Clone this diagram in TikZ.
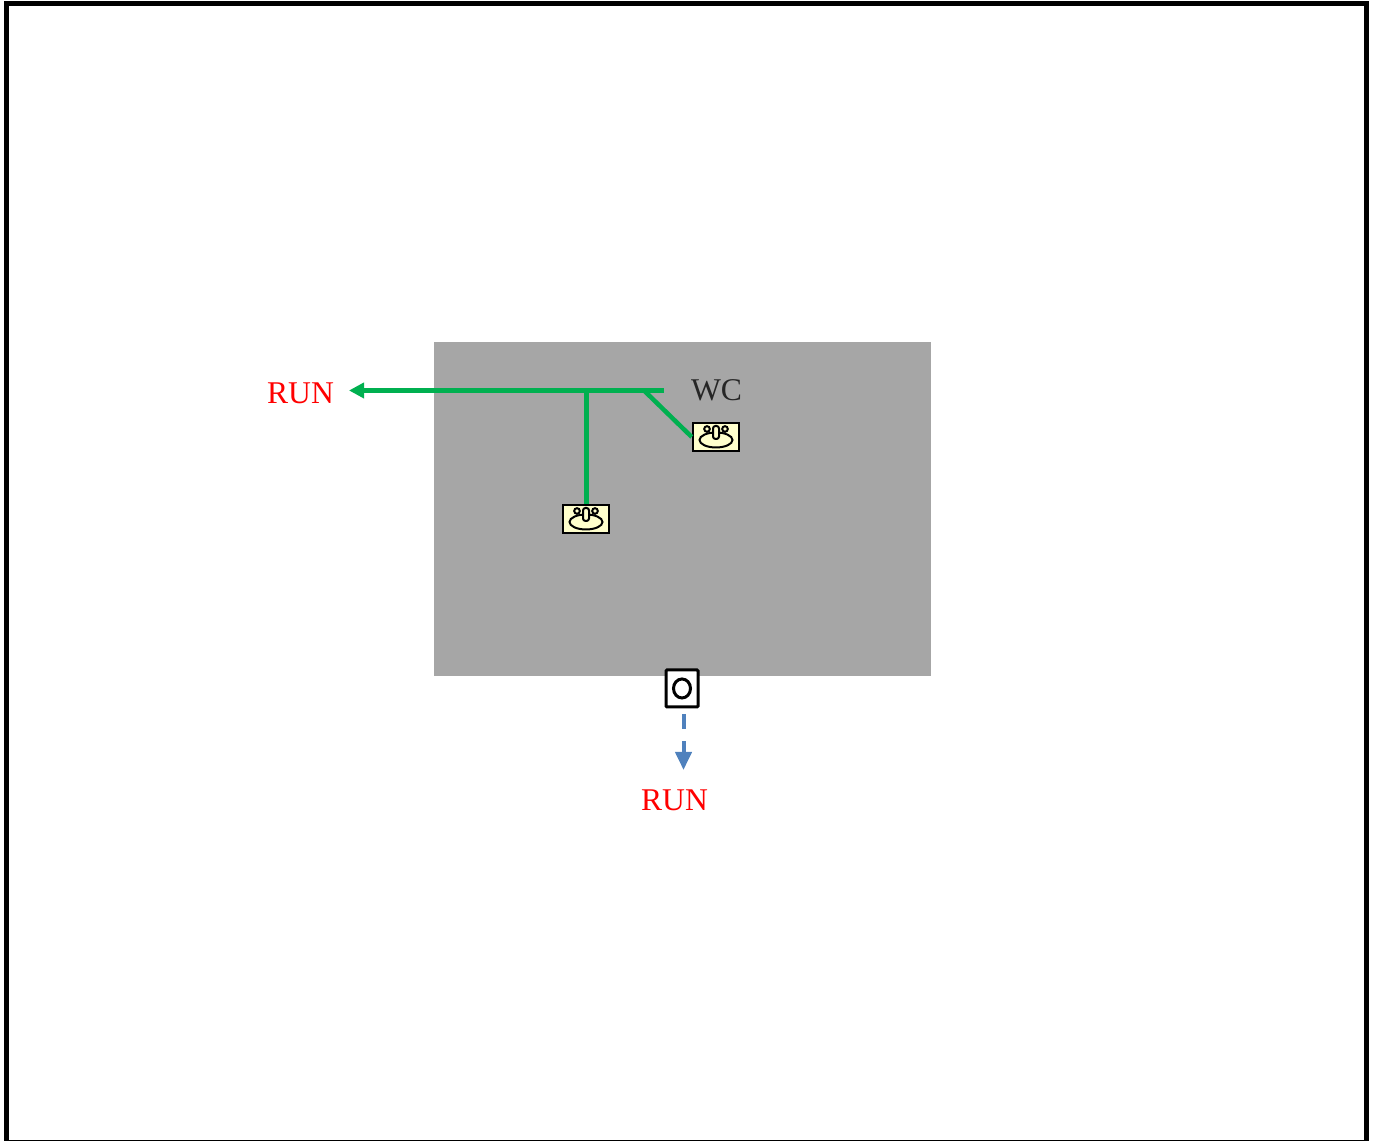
\documentclass[tikz,border=0pt]{standalone}
\usepackage{fontspec}
\setmainfont{Liberation Serif}
\usetikzlibrary{arrows.meta}
\usetikzlibrary{shapes.geometric}
\definecolor{pipegreen}{HTML}{00B050}
\definecolor{drainblue}{HTML}{4F81BD}
\definecolor{roomgray}{HTML}{A6A6A6}
\definecolor{sinkyellow}{HTML}{FFFFCC}
\tikzstyle{pipe} = [draw=pipegreen, line width=0.045cm]
\tikzstyle{drain} = [draw=drainblue, line width=0.04cm, dash pattern=on 0.15cm off 0.12cm]
\tikzstyle{sink} = [draw=black, fill=sinkyellow, line width=0.025cm, minimum width=0.46cm, minimum height=0.28cm, inner sep=0pt]
\tikzstyle{toilet} = [draw=black, fill=white, line width=0.03cm, rounded corners=0.1mm, minimum width=0.32cm, minimum height=0.37cm, inner sep=0pt]
\tikzstyle{runlabel} = [text=red, font=\fontsize{9}{11}\selectfont, inner sep=0pt]
\tikzstyle{roomlabel} = [text=black!85, font=\fontsize{9}{11}\selectfont, inner sep=0pt]

\begin{document}
\begin{tikzpicture}[scale=1.0]
	
	\useasboundingbox (0,0) rectangle (13.73,11.41);
	\draw [line width=0.05cm] (0.065,-0.016) rectangle (13.66,11.375);
	\fill [roomgray] (4.34,4.65) rectangle (9.31,7.99);

	\node (runA) [runlabel] at (3.005,7.48) {RUN};
	\node (runB) [runlabel] at (6.745,3.41) {RUN};
	\node (wc) [roomlabel] at (7.165,7.51) {WC};
	\node (sinkA) [sink] at (7.16,7.04) {};
	\node (sinkB) [sink] at (5.86,6.22) {};
	\node (wcpan) [toilet] at (6.82,4.525) {};
	\node (wcbowl) [draw=black, line width=0.03cm, ellipse, minimum width=0.17cm, minimum height=0.19cm, inner sep=0pt] at (wcpan) {};

	\coordinate (mainEnd) at (6.64,7.505);
	\coordinate (tipA) at (3.49,7.505);
	\coordinate (teeB) at (5.863,7.53);
	\coordinate (teeA) at (6.44,7.505);
	\coordinate (tipB) at (6.835,3.71);

	% supply line and its two branches
	\draw [pipe, -{Triangle[length=0.15cm,width=0.15cm]}] (mainEnd) -- (tipA);
	\draw [pipe, line width=0.05cm] (sinkB.north -| teeB) -- (teeB);
	\draw [pipe] (teeA) -- (sinkA.west);

	\draw [drain, shorten <=0.06cm, -{Triangle[length=0.18cm,width=0.16cm]}] (wcpan.south -| tipB) -- (tipB);

	\foreach \s in {sinkA,sinkB} {
		\draw [line width=0.02cm] ([yshift=-0.03cm]\s.center) ellipse (0.165cm and 0.075cm);
		\draw [line width=0.02cm] ([xshift=-0.09cm,yshift=0.08cm]\s.center) circle (0.028cm);
		\draw [line width=0.02cm] ([xshift=0.09cm,yshift=0.08cm]\s.center) circle (0.028cm);
		\draw [line width=0.02cm, fill=sinkyellow, rounded corners=0.25mm] ([xshift=-0.03cm,yshift=-0.02cm]\s.center) rectangle ([xshift=0.03cm,yshift=0.11cm]\s.center);
	}

\end{tikzpicture}
\end{document}
